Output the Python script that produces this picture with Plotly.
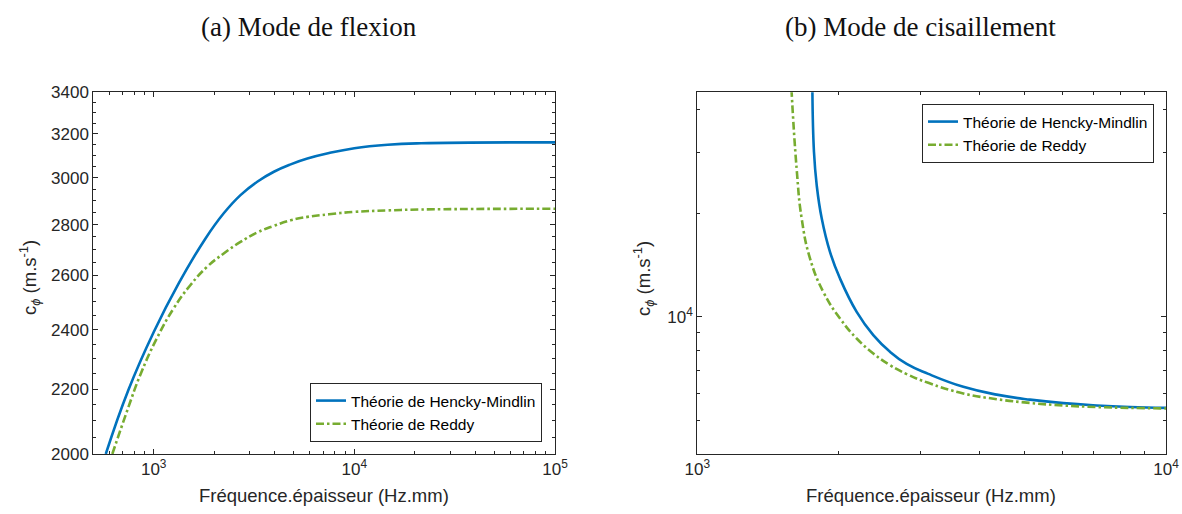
import plotly.graph_objects as go

# ---------------- data ----------------
# (a) Mode de flexion
flex_f_hm = [577, 748, 1002, 1330, 1809, 2234, 2707, 3281, 3972, 4814, 5834, 7482,
             10000, 14655, 21503, 100000]
flex_c_hm = [2000, 2197, 2393, 2568, 2743, 2847, 2924, 2982, 3026, 3059, 3085, 3110,
             3132, 3148, 3155, 3159]
flex_f_rd = [622, 748, 856, 1037, 1256, 1522, 1845, 2234, 2707, 3281, 3972, 4814,
             5834, 7482, 10000, 14655, 21503, 100000]
flex_c_rd = [2000, 2142, 2245, 2370, 2476, 2562, 2632, 2684, 2730, 2768, 2795, 2818,
             2832, 2843, 2853, 2859, 2863, 2866]

# (b) Mode de cisaillement
shear_f_hm = [1760, 1774, 1798, 1843, 1919, 2016, 2188, 2374, 2577, 2797, 3111, 3694,
              4353, 5126, 6038, 7113, 8379, 10000]
shear_c_hm = [46000, 30100, 24100, 19290, 15435, 12923, 10339, 8849, 7917, 7302, 6831,
              6265, 5947, 5751, 5618, 5533, 5478, 5445]
shear_f_rd = [1588, 1629, 1670, 1740, 1857, 2016, 2188, 2374, 2577, 2797, 3111, 3694,
              4353, 5126, 6038, 7113, 8379, 10000]
shear_c_rd = [46000, 26940, 19290, 14770, 11816, 9894, 8656, 7833, 7243, 6822, 6435,
              5995, 5770, 5626, 5533, 5474, 5442, 5424]

names = ["Théorie de Hencky-Mindlin", "Théorie de Reddy"]
titles = ["(a) Mode de flexion", "(b) Mode de cisaillement"]
xlabel = "Fréquence.épaisseur (Hz.mm)"
ylabel = "c<sub><i>ϕ</i></sub> (m.s<sup>-1</sup>)"

left_x_ticks = [1000, 10000, 100000]
left_x_text = ["10<sup>3</sup>", "10<sup>4</sup>", "10<sup>5</sup>"]
left_x_minor = [600, 700, 800, 900] + [k * 1000 for k in range(2, 10)] + [k * 10000 for k in range(2, 10)]
left_y_ticks = [2000, 2200, 2400, 2600, 2800, 3000, 3200, 3400]
left_y_minor = list(range(2000, 3401, 50))

right_x_ticks = [1000, 10000]
right_x_text = ["10<sup>3</sup>", "10<sup>4</sup>"]
right_x_minor = [k * 1000 for k in range(2, 10)]
right_y_ticks = [10000]
right_y_text = ["10<sup>4</sup>"]
right_y_minor = [5000, 6000, 7000, 8000, 9000, 20000, 30000, 40000]

# ---------------- styling ----------------
BLUE = "#0072BD"
GREEN = "#77AC30"
AX = "#262626"
W, H = 1182, 514
DASHDOT = "8px,3px,2.5px,3px"
SANS = "Liberation Sans, Arial"


def px_x(p):
    return p / W


def px_y(p):
    return 1 - p / H


fig = go.Figure()

fig.add_trace(go.Scatter(x=flex_f_hm, y=flex_c_hm, name=names[0], mode="lines",
                         line=dict(color=BLUE, width=2.6, shape="spline", smoothing=1.3),
                         xaxis="x", yaxis="y", legend="legend"))
fig.add_trace(go.Scatter(x=flex_f_rd, y=flex_c_rd, name=names[1], mode="lines",
                         line=dict(color=GREEN, width=2.6, shape="spline", smoothing=1.3,
                                   dash=DASHDOT),
                         xaxis="x", yaxis="y", legend="legend"))
fig.add_trace(go.Scatter(x=shear_f_hm, y=shear_c_hm, name=names[0], mode="lines",
                         line=dict(color=BLUE, width=2.6, shape="spline", smoothing=1.3),
                         xaxis="x2", yaxis="y2", legend="legend2"))
fig.add_trace(go.Scatter(x=shear_f_rd, y=shear_c_rd, name=names[1], mode="lines",
                         line=dict(color=GREEN, width=2.6, shape="spline", smoothing=1.3,
                                   dash=DASHDOT),
                         xaxis="x2", yaxis="y2", legend="legend2"))

axis_common = dict(
    type="log", showgrid=False, zeroline=False, showline=True, linecolor=AX, linewidth=1,
    mirror="ticks", ticks="inside", ticklen=5, tickwidth=1, tickcolor=AX, automargin=False,
    ticklabeloverflow="allow",
    tickfont=dict(family=SANS, size=17, color=AX),
)
minor_common = dict(ticks="inside", ticklen=3, tickwidth=1, tickcolor=AX, showgrid=False)

ydom = [px_y(454), px_y(92.3)]

fig.update_layout(
    width=W, height=H, margin=dict(l=0, r=0, t=0, b=0, autoexpand=False),
    paper_bgcolor="white", plot_bgcolor="white",
    xaxis=dict(axis_common, domain=[px_x(93.3), px_x(555)], anchor="y",
               range=[2.699, 5], tickmode="array", tickvals=left_x_ticks, ticktext=left_x_text,
               minor=dict(minor_common, tickvals=left_x_minor)),
    yaxis=dict(axis_common, domain=ydom, anchor="x",
               range=[3.30103, 3.531479], tickmode="array", tickvals=left_y_ticks,
               ticktext=[str(v) for v in left_y_ticks],
               minor=dict(minor_common, tickvals=left_y_minor)),
    xaxis2=dict(axis_common, domain=[px_x(697.3), px_x(1166)], anchor="y2",
                range=[3, 4], tickmode="array", tickvals=right_x_ticks, ticktext=right_x_text,
                minor=dict(minor_common, tickvals=right_x_minor)),
    yaxis2=dict(axis_common, domain=ydom, anchor="x2",
                range=[3.602, 4.652], tickmode="array", tickvals=right_y_ticks, ticktext=right_y_text,
                minor=dict(minor_common, tickvals=right_y_minor)),
    legend=dict(x=px_x(542), y=px_y(442), xanchor="right", yanchor="bottom",
                bgcolor="white", bordercolor=AX, borderwidth=1,
                font=dict(family=SANS, size=15.5, color="black"),
                tracegroupgap=0, itemwidth=30),
    legend2=dict(x=px_x(1154), y=px_y(104), xanchor="right", yanchor="top",
                 bgcolor="white", bordercolor=AX, borderwidth=1,
                 font=dict(family=SANS, size=15.5, color="black"),
                 tracegroupgap=0, itemwidth=30),
    showlegend=True,
)


def ann(text, x, y, font, angle=0):
    return dict(text=text, x=px_x(x), y=px_y(y), xref="paper", yref="paper",
                xanchor="center", yanchor="middle", textangle=angle,
                showarrow=False, font=font)


title_font = dict(family="Liberation Serif, serif", size=27, color="#111111")
label_font = dict(family=SANS, size=18.5, color=AX)

fig.update_layout(annotations=[
    ann(titles[0], 309, 27, title_font),
    ann(titles[1], 920, 27, title_font),
    ann(xlabel, 324, 495, label_font),
    ann(xlabel, 931, 495, label_font),
    ann(ylabel, 29, 277, label_font, -90),
    ann(ylabel, 643, 278, label_font, -90),
])

fig.write_html(
    "out.html",
    config={"displayModeBar": False},
    post_script="document.body.style.margin='0px';document.body.style.overflow='hidden';",
)
